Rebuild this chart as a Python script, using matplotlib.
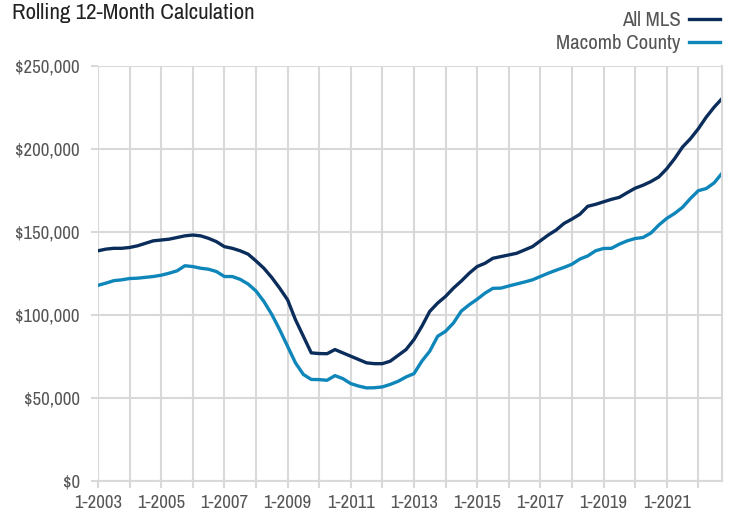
import numpy as np
import matplotlib
matplotlib.use("Agg")
import matplotlib.pyplot as plt
from matplotlib import font_manager as fm
from matplotlib.ticker import FuncFormatter, MultipleLocator

# pick a narrow font if one is installed
narrow = None
for f in fm.fontManager.ttflist:
    if ('Narrow' in f.name or 'Condensed' in f.name) and narrow is None:
        narrow = f.name
if narrow:
    plt.rcParams['font.family'] = [narrow, 'DejaVu Sans']

# quarterly values, 1-2003 .. 10-2022 (k$)
all_mls = [138.5, 139.5, 140, 140,
           140.5, 141.5, 143, 144.5,
           145, 145.5, 146.5, 147.5,
           148, 147.5, 146, 144,
           141, 140, 138.5, 136.5,
           132.4, 128, 122.4, 116,
           109, 97, 87, 77,
           76.6, 76.5, 79, 77,
           75, 73, 71, 70.5,
           70.5, 72, 75.5, 79,
           85, 93, 102, 107,
           111, 116, 120.3, 125,
           129, 131, 134, 135,
           136, 137, 139, 141,
           144.5, 148, 151, 155,
           157.6, 160.5, 165.3, 166.5,
           168, 169.5, 170.7, 173.5,
           176.2, 178, 180.2, 183,
           187.9, 194, 201, 206,
           212, 219, 225, 230.2]
macomb = [117.7, 119, 120.5, 121,
          121.8, 122, 122.5, 123,
          123.8, 125, 126.4, 129.5,
          129, 128, 127.4, 126,
          123, 123, 121.3, 118.5,
          114.3, 108, 100.2, 91,
          81, 71, 64, 61,
          60.9, 60.5, 63.3, 61.5,
          58.5, 57, 55.9, 56,
          56.5, 58, 59.9, 62.5,
          64.5, 72, 78, 87,
          90, 95, 102.2, 106,
          109.3, 113, 115.9, 116,
          117.3, 118.5, 119.7, 121,
          123, 125, 126.8, 128.5,
          130.4, 133.5, 135.4, 138.5,
          139.9, 140, 142.5, 144.5,
          145.9, 146.5, 149.2, 154,
          158, 161, 164.7, 170,
          174.7, 176, 179.4, 185.2]
months = np.arange(0, 3 * len(all_mls), 3)  # month index from 1-2003
tick_labels = ['1-2003', '1-2005', '1-2007', '1-2009', '1-2011',
               '1-2013', '1-2015', '1-2017', '1-2019', '1-2021']

fig = plt.figure(figsize=(7.29, 5.15), dpi=100)
ax = fig.add_axes([0.1344, 0.0666, 0.8560, 0.8058])

ax.plot(months, np.array(all_mls) * 1000, color='#0B2D5B', lw=2.4, label='All MLS')
ax.plot(months, np.array(macomb) * 1000, color='#0E86BA', lw=2.4, label='Macomb County')

ax.set_xlim(0, months[-1])
ax.set_ylim(0, 250000)
ax.set_xticks(np.arange(0, 24 * len(tick_labels), 24))
ax.set_xticklabels(tick_labels)
ax.xaxis.set_minor_locator(MultipleLocator(12))
ax.yaxis.set_major_locator(MultipleLocator(50000))
ax.yaxis.set_major_formatter(FuncFormatter(lambda v, p: f"${v:,.0f}"))

grid_c = '#d9d9d9'
ax.grid(True, which='both', axis='x', color=grid_c, lw=1.5)
ax.grid(True, which='major', axis='y', color=grid_c, lw=1.5)
ax.set_axisbelow(True)
for s in ax.spines.values():
    s.set_visible(False)
for side in ['bottom', 'right']:
    ax.spines[side].set_visible(True)
    ax.spines[side].set_color(grid_c)
    ax.spines[side].set_linewidth(1.5)
ax.tick_params(axis='both', which='both', color=grid_c, width=1.5, length=5,
               labelcolor='#555555', labelsize=13.5)
ax.tick_params(axis='x', pad=5)
ax.tick_params(axis='y', pad=8)

fig.text(0.016, 0.975, 'Rolling 12-Month Calculation', fontsize=16.5, color='#222222', va='center')
ax.legend(loc='upper right', bbox_to_anchor=(1.002, 0.999), bbox_transform=fig.transFigure,
          markerfirst=False, frameon=False, fontsize=15, labelcolor='#555555',
          handlelength=1.5, handletextpad=0.4, labelspacing=0.2, borderaxespad=0.1)

fig.savefig('out.png', dpi=100)
